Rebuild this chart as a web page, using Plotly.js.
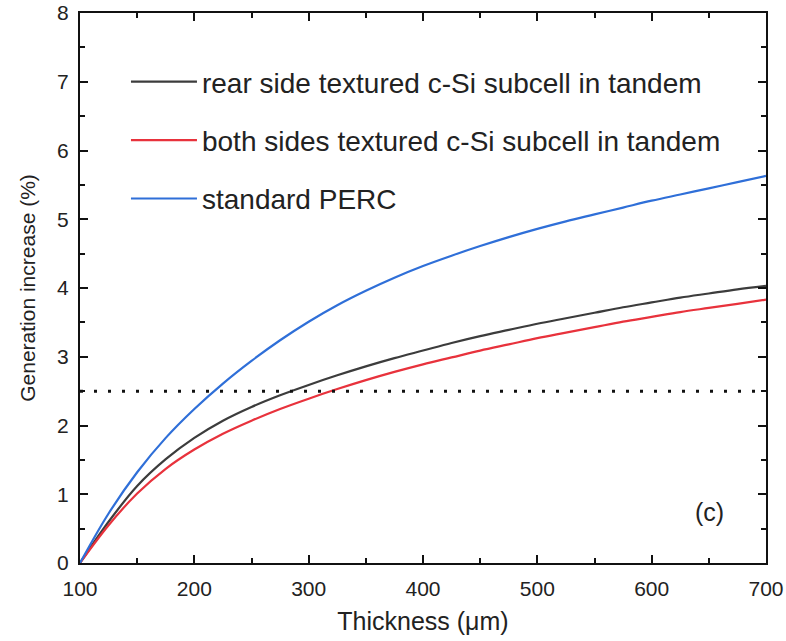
<!DOCTYPE html>
<html>
<head>
<meta charset="utf-8">
<script src="https://cdn.plot.ly/plotly-3.0.1.min.js"></script>
<style>html,body{margin:0;padding:0;background:#fff;}#chart{width:786px;height:641px;}</style>
</head>
<body>
<div id="chart"></div>
<script>
const thickness = [100, 125, 150, 175, 200, 225, 250, 275, 300, 325, 350, 375, 400, 425, 450, 475, 500, 525, 550, 575, 600, 625, 650, 675, 700];
const rearTextured = [0, 0.6, 1.12, 1.51, 1.82, 2.07, 2.27, 2.44, 2.59, 2.73, 2.86, 2.98, 3.09, 3.2, 3.3, 3.39, 3.48, 3.56, 3.64, 3.72, 3.79, 3.86, 3.92, 3.98, 4.03];
const bothTextured = [0, 0.55, 1.01, 1.37, 1.65, 1.88, 2.07, 2.24, 2.39, 2.53, 2.66, 2.78, 2.89, 2.99, 3.09, 3.18, 3.27, 3.35, 3.43, 3.51, 3.58, 3.65, 3.71, 3.77, 3.83];
const standardPERC = [0, 0.72, 1.32, 1.82, 2.24, 2.61, 2.94, 3.24, 3.51, 3.75, 3.96, 4.15, 4.32, 4.47, 4.61, 4.74, 4.86, 4.97, 5.07, 5.17, 5.27, 5.36, 5.45, 5.54, 5.63];
const thresholdX = [100, 700];
const thresholdY = [2.5, 2.5];
const seriesNames = ['rear side textured c-Si subcell in tandem', 'both sides textured c-Si subcell in tandem', 'standard PERC'];
const xTicks = [100, 200, 300, 400, 500, 600, 700];
const yTicks = [0, 1, 2, 3, 4, 5, 6, 7, 8];

const font = 'Liberation Sans, Arial, sans-serif';
const traces = [
  {x: thickness, y: rearTextured, name: seriesNames[0], mode: 'lines', line: {color: '#3c3c3c', width: 2.2, shape: 'spline'}, legendgroup: 'a'},
  {x: thickness, y: bothTextured, name: seriesNames[1], mode: 'lines', line: {color: '#e8323c', width: 2.2, shape: 'spline'}, legendgroup: 'b'},
  {x: thickness, y: standardPERC, name: seriesNames[2], mode: 'lines', line: {color: '#2f6fd8', width: 2.2, shape: 'spline'}, legendgroup: 'c'},
  {x: thresholdX, y: thresholdY, mode: 'lines', line: {color: '#111', width: 3, dash: '3px,11px'}, showlegend: false, hoverinfo: 'skip'}
];
const axisCommon = {
  showline: true, linecolor: '#111', linewidth: 2, mirror: 'ticks',
  ticks: 'inside', ticklen: 8, tickwidth: 2, tickcolor: '#111',
  showgrid: false, zeroline: false, ticklabeloverflow: 'allow',
  tickfont: {family: font, size: 21, color: '#222'}
};
const layout = {
  width: 786, height: 641,
  margin: {l: 80, r: 20, t: 13, b: 78},
  paper_bgcolor: '#fff', plot_bgcolor: '#fff',
  showlegend: true,
  legend: {x: 0.067, y: 0.92, xanchor: 'left', yanchor: 'top', bgcolor: 'rgba(0,0,0,0)',
    font: {family: font, size: 28, color: '#222'}, tracegroupgap: 19, itemwidth: 66},
  xaxis: Object.assign({}, axisCommon, {
    range: [100, 700], tickvals: xTicks, ticktext: xTicks.map(String), ticklabelstandoff: 6,
    minor: {ticks: 'inside', dtick: 50, ticklen: 5, tickwidth: 2, tickcolor: '#111'},
    title: {text: 'Thickness (μm)', font: {family: font, size: 25, color: '#222'}, standoff: 13}
  }),
  yaxis: Object.assign({}, axisCommon, {
    range: [0, 8], tickvals: yTicks, ticktext: yTicks.map(String), ticklabelstandoff: 5,
    minor: {ticks: 'inside', dtick: 0.5, ticklen: 5, tickwidth: 2, tickcolor: '#111'},
    title: {text: 'Generation increase (%)', font: {family: font, size: 21, color: '#222'}, standoff: 16}
  }),
  annotations: [
    {x: 651, y: 0.74, xref: 'x', yref: 'y', text: '(c)', showarrow: false, font: {family: font, size: 25, color: '#222'}}
  ]
};
Plotly.newPlot('chart', traces, layout, {displayModeBar: false, staticPlot: true});
</script>
</body>
</html>
